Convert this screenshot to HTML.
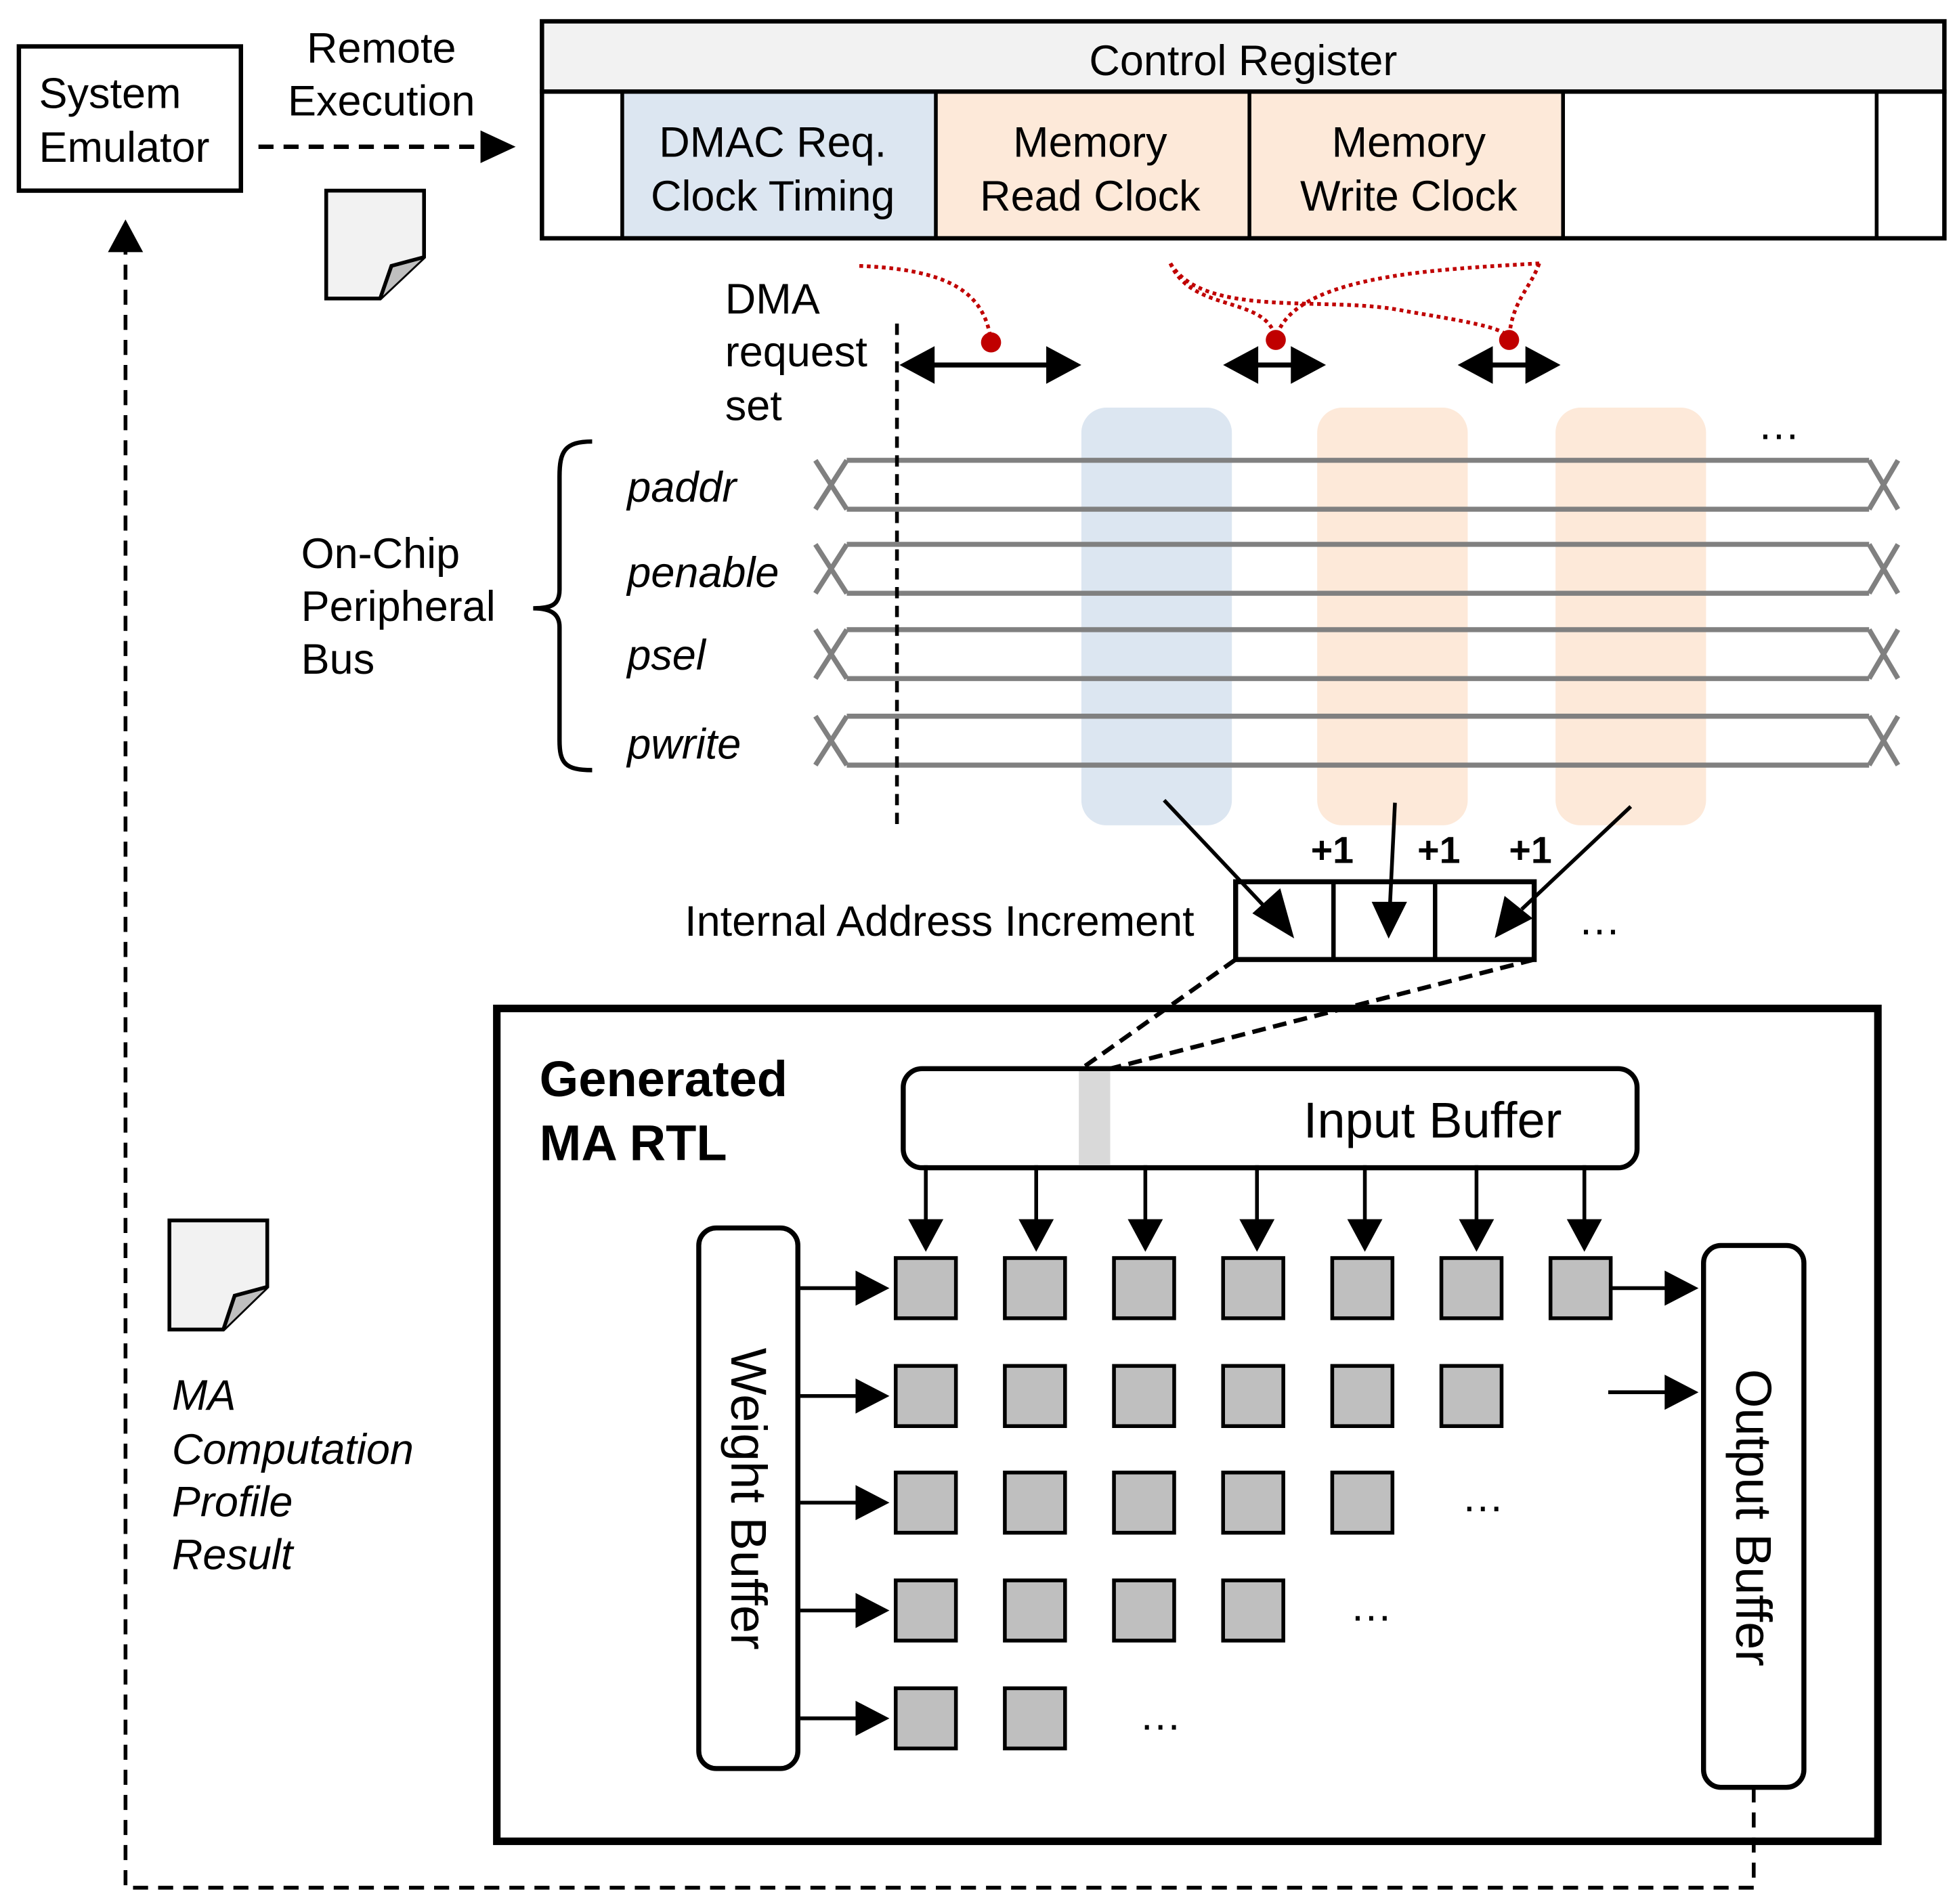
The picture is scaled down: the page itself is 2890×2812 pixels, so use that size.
<!DOCTYPE html>
<html><head><style>html,body{margin:0;padding:0;background:#fff}svg{display:block}text{font-family:"Liberation Sans",sans-serif;fill:#000}</style></head>
<body>
<svg width="2890" height="2812" viewBox="0 0 1560 1518" xmlns="http://www.w3.org/2000/svg">
<rect width="1560" height="1518" fill="#fff"/>
<!-- System emulator -->
<rect x="15" y="37" width="177" height="115" fill="#fff" stroke="#000" stroke-width="3.5"/>
<text x="31" y="86" font-size="34">System</text>
<text x="31" y="129" font-size="34">Emulator</text>
<text x="304" y="50" font-size="34" text-anchor="middle">Remote</text>
<text x="304" y="92" font-size="34" text-anchor="middle">Execution</text>
<line x1="206" y1="117" x2="385" y2="117" stroke="#000" stroke-width="3.5" stroke-dasharray="12,8"/>
<path d="M383,104 L411,117 L383,130 z"/>
<!-- doc icon 1 -->
<path d="M260,152 L338,152 L338,205 L303,238 L260,238 z" fill="#f2f2f2" stroke="#000" stroke-width="3"/>
<path d="M303,238 L312,212 L338,205" fill="#bfbfbf" stroke="#000" stroke-width="3"/>
<!-- Control register -->
<rect x="432" y="17" width="1118" height="56" fill="#f2f2f2" stroke="#000" stroke-width="3.5"/>
<rect x="496" y="73" width="250" height="117" fill="#dce6f1"/>
<rect x="746" y="73" width="500" height="117" fill="#fde9d9"/>
<rect x="432" y="73" width="1118" height="117" fill="none" stroke="#000" stroke-width="3.5"/>
<g stroke="#000" stroke-width="3"><line x1="496" y1="73" x2="496" y2="190"/><line x1="746" y1="73" x2="746" y2="190"/><line x1="996" y1="73" x2="996" y2="190"/><line x1="1246" y1="73" x2="1246" y2="190"/><line x1="1496" y1="73" x2="1496" y2="190"/></g>
<text x="991" y="60" font-size="34" text-anchor="middle">Control Register</text>
<text x="616" y="125" font-size="34" text-anchor="middle">DMAC Req.</text>
<text x="616" y="168" font-size="34" text-anchor="middle">Clock Timing</text>
<text x="869" y="125" font-size="34" text-anchor="middle">Memory</text>
<text x="869" y="168" font-size="34" text-anchor="middle">Read Clock</text>
<text x="1123" y="125" font-size="34" text-anchor="middle">Memory</text>
<text x="1123" y="168" font-size="34" text-anchor="middle">Write Clock</text>
<!-- red dotted -->
<g fill="none" stroke="#c00000" stroke-width="3" stroke-dasharray="3,3">
<path d="M685,212 C760,215 785,235 790,272"/>
<path d="M933,210 C950,250 1010,235 1017,270"/>
<path d="M1227,210 C1140,215 1030,220 1017,270"/>
<path d="M933,210 C960,255 1060,235 1120,248 C1180,258 1200,262 1203,270"/>
<path d="M1227,210 C1220,230 1205,240 1203,270"/>
</g>
<g fill="#c00000"><circle cx="790" cy="273" r="8"/><circle cx="1017" cy="271" r="8"/><circle cx="1203" cy="271" r="8"/></g>
<!-- double arrows -->
<g stroke="#000" stroke-width="4"><line x1="740" y1="291" x2="840" y2="291"/><line x1="995" y1="291" x2="1037" y2="291"/><line x1="1182" y1="291" x2="1224" y2="291"/></g>
<path d="M717,291 L745,276 L745,306 z M862,291 L834,276 L834,306 z M975,291 L1003,276 L1003,306 z M1057,291 L1029,276 L1029,306 z M1162,291 L1190,276 L1190,306 z M1244,291 L1216,276 L1216,306 z"/>
<text x="578" y="250" font-size="34">DMA</text>
<text x="578" y="292" font-size="34">request</text>
<text x="578" y="335" font-size="34">set</text>
<!-- columns -->
<rect x="862" y="325" width="120" height="333" rx="20" fill="#dce6f1"/>
<rect x="1050" y="325" width="120" height="333" rx="20" fill="#fde9d9"/>
<rect x="1240" y="325" width="120" height="333" rx="20" fill="#fde9d9"/>
<text x="1418" y="350" font-size="34" text-anchor="middle">…</text>
<!-- signals -->
<g fill="none" stroke="#808080" stroke-width="4">
<path d="M675,367 L1490,367 M675,406 L1490,406 M650,367 L675,406 M650,406 L675,367 M1490,367 L1513,406 M1490,406 L1513,367"/>
<path d="M675,434 L1490,434 M675,473 L1490,473 M650,434 L675,473 M650,473 L675,434 M1490,434 L1513,473 M1490,473 L1513,434"/>
<path d="M675,502 L1490,502 M675,541 L1490,541 M650,502 L675,541 M650,541 L675,502 M1490,502 L1513,541 M1490,541 L1513,502"/>
<path d="M675,571 L1490,571 M675,610 L1490,610 M650,571 L675,610 M650,610 L675,571 M1490,571 L1513,610 M1490,610 L1513,571"/>
</g>
<line x1="715" y1="258" x2="715" y2="658" stroke="#000" stroke-width="3" stroke-dasharray="9,6"/>
<g font-size="34" font-style="italic"><text x="500" y="400">paddr</text><text x="500" y="468">penable</text><text x="500" y="534">psel</text><text x="500" y="605">pwrite</text></g>
<path d="M472,352 C450,352 446,360 446,380 L446,470 C446,482 440,485 425,485 C440,485 446,490 446,500 L446,590 C446,608 450,614 472,614" fill="none" stroke="#000" stroke-width="3.5"/>
<text x="240" y="453" font-size="34">On-Chip</text>
<text x="240" y="495" font-size="34">Peripheral</text>
<text x="240" y="537" font-size="34">Bus</text>
<!-- increment -->
<rect x="985" y="703" width="238" height="62" fill="none" stroke="#000" stroke-width="4"/>
<line x1="1063" y1="703" x2="1063" y2="765" stroke="#000" stroke-width="3.5"/>
<line x1="1144" y1="703" x2="1144" y2="765" stroke="#000" stroke-width="3.5"/>
<g stroke="#000" stroke-width="3"><line x1="928" y1="638" x2="1012" y2="727"/><line x1="1112" y1="640" x2="1108" y2="722"/><line x1="1300" y1="643" x2="1213" y2="725"/></g>
<path d="M1030,746 L1000,728 L1020,710 z M1107,746 L1095,720 L1120,720 z M1193,746 L1200,716 L1220,732 z" stroke="#000" stroke-width="2"/>
<g font-size="30" font-weight="bold" text-anchor="middle"><text x="1062" y="688">+1</text><text x="1147" y="688">+1</text><text x="1220" y="688">+1</text></g>
<text x="952" y="746" font-size="34" text-anchor="end">Internal Address Increment</text>
<text x="1275" y="745" font-size="34" text-anchor="middle">…</text>
<g stroke="#000" stroke-width="3.5" stroke-dasharray="11,6"><line x1="985" y1="765" x2="862" y2="852"/><line x1="1223" y1="765" x2="885" y2="852"/></g>
<!-- RTL box -->
<rect x="396" y="804" width="1101" height="664" fill="none" stroke="#000" stroke-width="6"/>
<text x="430" y="874" font-size="40" font-weight="bold">Generated</text>
<text x="430" y="925" font-size="40" font-weight="bold">MA RTL</text>
<rect x="720" y="852" width="585" height="79" rx="15" fill="#fff" stroke="#000" stroke-width="4"/>
<rect x="860" y="854" width="25" height="75" fill="#d9d9d9"/>
<text x="1142" y="907" font-size="40" text-anchor="middle">Input Buffer</text>
<g stroke="#000" stroke-width="3">
<line x1="738" y1="929" x2="738" y2="975"/><line x1="826" y1="929" x2="826" y2="975"/><line x1="913" y1="929" x2="913" y2="975"/><line x1="1002" y1="929" x2="1002" y2="975"/><line x1="1088" y1="929" x2="1088" y2="975"/><line x1="1177" y1="929" x2="1177" y2="975"/><line x1="1263" y1="929" x2="1263" y2="975"/>
</g>
<path d="M724,972 L752,972 L738,998 z M812,972 L840,972 L826,998 z M899,972 L927,972 L913,998 z M988,972 L1016,972 L1002,998 z M1074,972 L1102,972 L1088,998 z M1163,972 L1191,972 L1177,998 z M1249,972 L1277,972 L1263,998 z"/>
<rect x="557" y="979" width="79" height="431" rx="14" fill="#fff" stroke="#000" stroke-width="4"/>
<text transform="translate(583,1195) rotate(90)" font-size="40" text-anchor="middle">Weight Buffer</text>
<rect x="1358" y="993" width="80" height="432" rx="14" fill="#fff" stroke="#000" stroke-width="4"/>
<text transform="translate(1384,1210) rotate(90)" font-size="40" text-anchor="middle">Output Buffer</text>
<!-- PEs -->
<g fill="#bfbfbf" stroke="#000" stroke-width="3">
<rect x="714" y="1003" width="48" height="48"/><rect x="801" y="1003" width="48" height="48"/><rect x="888" y="1003" width="48" height="48"/><rect x="975" y="1003" width="48" height="48"/><rect x="1062" y="1003" width="48" height="48"/><rect x="1149" y="1003" width="48" height="48"/><rect x="1236" y="1003" width="48" height="48"/>
<rect x="714" y="1089" width="48" height="48"/><rect x="801" y="1089" width="48" height="48"/><rect x="888" y="1089" width="48" height="48"/><rect x="975" y="1089" width="48" height="48"/><rect x="1062" y="1089" width="48" height="48"/><rect x="1149" y="1089" width="48" height="48"/>
<rect x="714" y="1174" width="48" height="48"/><rect x="801" y="1174" width="48" height="48"/><rect x="888" y="1174" width="48" height="48"/><rect x="975" y="1174" width="48" height="48"/><rect x="1062" y="1174" width="48" height="48"/>
<rect x="714" y="1260" width="48" height="48"/><rect x="801" y="1260" width="48" height="48"/><rect x="888" y="1260" width="48" height="48"/><rect x="975" y="1260" width="48" height="48"/>
<rect x="714" y="1346" width="48" height="48"/><rect x="801" y="1346" width="48" height="48"/>
</g>
<g stroke="#000" stroke-width="3">
<line x1="638" y1="1027" x2="685" y2="1027"/><line x1="638" y1="1113" x2="685" y2="1113"/><line x1="638" y1="1198" x2="685" y2="1198"/><line x1="638" y1="1284" x2="685" y2="1284"/><line x1="638" y1="1370" x2="685" y2="1370"/>
<line x1="1285" y1="1027" x2="1330" y2="1027"/><line x1="1282" y1="1110" x2="1330" y2="1110"/>
</g>
<path d="M682,1013 L709,1027 L682,1041 z M682,1099 L709,1113 L682,1127 z M682,1184 L709,1198 L682,1212 z M682,1270 L709,1284 L682,1298 z M682,1356 L709,1370 L682,1384 z M1327,1013 L1354,1027 L1327,1041 z M1327,1096 L1354,1110 L1327,1124 z"/>
<g font-size="34" text-anchor="middle"><text x="1182" y="1205">…</text><text x="1093" y="1292">…</text><text x="925" y="1379">…</text></g>
<!-- doc icon 2 -->
<path d="M135,973 L213,973 L213,1026 L178,1060 L135,1060 z" fill="#f2f2f2" stroke="#000" stroke-width="3"/>
<path d="M178,1060 L187,1033 L213,1026" fill="#bfbfbf" stroke="#000" stroke-width="3"/>
<g font-size="34" font-style="italic"><text x="137" y="1124">MA</text><text x="137" y="1167">Computation</text><text x="137" y="1209">Profile</text><text x="137" y="1251">Result</text></g>
<!-- feedback -->
<path d="M1398,1425 L1398,1505 L100,1505 L100,200" fill="none" stroke="#000" stroke-width="3" stroke-dasharray="12,8"/>
<path d="M86,201 L100,175 L114,201 z"/>
</svg>
</body></html>
